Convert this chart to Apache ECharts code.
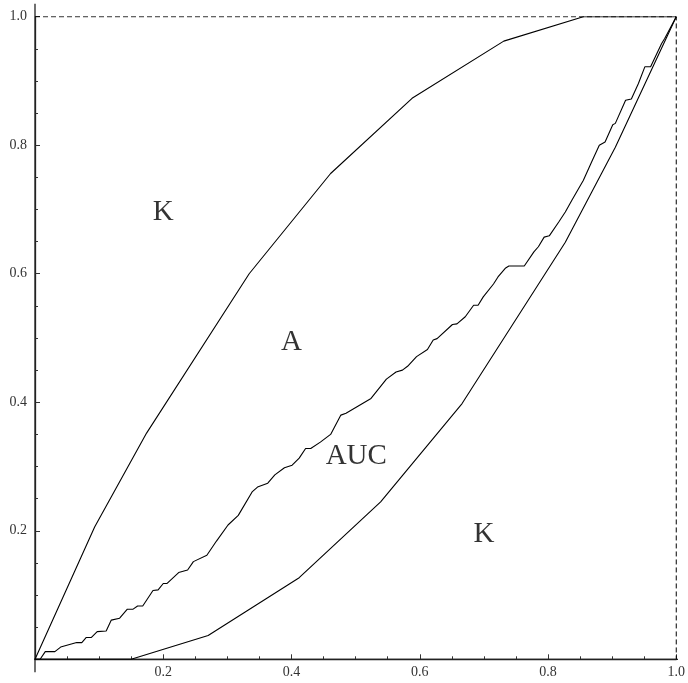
<!DOCTYPE html>
<html>
<head>
<meta charset="utf-8">
<script src="https://cdn.jsdelivr.net/npm/echarts@6/dist/echarts.min.js"></script>
<style>
html, body { margin: 0; padding: 0; background: #fff; }
#chart { width: 688px; height: 683px; }
</style>
</head>
<body>
<div id="chart"></div>
<script>
// upper bound curve (concave)
var upperCurve = [
  [0, 0], [0.093, 0.206], [0.174, 0.352], [0.334, 0.600], [0.461, 0.756],
  [0.588, 0.873], [0.731, 0.962], [0.855, 1.0], [1, 1]
];
// lower bound curve (convex)
var lowerCurve = [
  [0, 0], [0.150, 0], [0.270, 0.037], [0.412, 0.127], [0.539, 0.245],
  [0.666, 0.398], [0.827, 0.649], [0.905, 0.797], [1, 1]
];
// empirical ROC curve (steps)
var rocCurve = [
  [0, 0], [0.008, 0], [0.016, 0.012], [0.031, 0.012], [0.040, 0.019],
  [0.065, 0.026], [0.073, 0.026], [0.080, 0.034], [0.088, 0.034], [0.097, 0.043],
  [0.111, 0.044], [0.119, 0.061], [0.132, 0.064], [0.144, 0.078], [0.153, 0.078],
  [0.160, 0.083], [0.168, 0.083], [0.184, 0.107], [0.192, 0.108], [0.200, 0.118],
  [0.206, 0.118], [0.224, 0.135], [0.238, 0.139], [0.247, 0.152], [0.268, 0.162],
  [0.283, 0.184], [0.301, 0.209], [0.317, 0.224], [0.339, 0.261], [0.347, 0.268],
  [0.363, 0.274], [0.374, 0.287], [0.389, 0.298], [0.401, 0.302], [0.412, 0.313],
  [0.422, 0.328], [0.430, 0.328], [0.445, 0.338], [0.461, 0.350], [0.477, 0.380],
  [0.485, 0.383], [0.524, 0.406], [0.548, 0.436], [0.563, 0.447], [0.573, 0.450],
  [0.581, 0.456], [0.595, 0.471], [0.612, 0.482], [0.621, 0.497], [0.627, 0.499],
  [0.651, 0.521], [0.658, 0.522], [0.671, 0.533], [0.684, 0.551], [0.691, 0.551],
  [0.699, 0.564], [0.715, 0.584], [0.722, 0.595], [0.734, 0.609], [0.739, 0.612],
  [0.763, 0.612], [0.778, 0.634], [0.785, 0.642], [0.794, 0.657], [0.802, 0.659],
  [0.817, 0.681], [0.827, 0.696], [0.837, 0.714], [0.848, 0.733], [0.855, 0.745],
  [0.868, 0.774], [0.880, 0.800], [0.889, 0.805], [0.901, 0.832], [0.905, 0.834],
  [0.921, 0.870], [0.930, 0.872], [0.941, 0.896], [0.951, 0.922], [0.960, 0.922],
  [0.977, 0.958], [0.982, 0.966], [1, 1]
];
// dashed frame at y=1 and x=1
var frame = [[0, 1], [1, 1], [1, 0]];
// region labels
var regionNames = ['K', 'A', 'AUC', 'K'];
var regionPos = [[0.2, 0.695], [0.4, 0.493], [0.501, 0.315], [0.700, 0.194]];

var labelFont = 'Liberation Serif';
var myChart = echarts.init(document.getElementById('chart'));

function axisCommon() {
  return {
    type: 'value',
    min: 0,
    max: 1,
    interval: 0.2,
    splitLine: {show: false},
    axisLine: {show: true, lineStyle: {color: '#222', width: 1.3}},
    axisTick: {show: true, inside: true, length: 5, lineStyle: {color: '#333', width: 1}},
    minorTick: {show: true, splitNumber: 4, length: 3, lineStyle: {color: '#333', width: 1}},
    minorSplitLine: {show: false},
    axisLabel: {
      color: '#333',
      fontFamily: labelFont,
      fontSize: 14,
      formatter: function (v) { return v === 0 ? '' : v.toFixed(1); }
    }
  };
}

var xAxis = axisCommon();
xAxis.axisLabel.margin = 6;
var yAxis = axisCommon();
yAxis.axisLabel.margin = 8;

function plainLine(data, extra) {
  var s = {
    type: 'line',
    data: data,
    showSymbol: false,
    symbol: 'none',
    silent: true,
    lineStyle: {color: '#000', width: 1.1}
  };
  for (var k in extra) s[k] = extra[k];
  return s;
}

option = {
  animation: false,
  backgroundColor: '#fff',
  grid: {left: 35, right: 10, top: 16.7, bottom: 23.7},
  xAxis: xAxis,
  yAxis: yAxis,
  series: [
    plainLine([[-0.02, 0], [1.02, 0]], {clip: false, lineStyle: {color: '#222', width: 1.3}}),
    plainLine([[0, -0.02], [0, 1.02]], {clip: false, lineStyle: {color: '#222', width: 1.3}}),
    plainLine(frame, {lineStyle: {color: '#000', width: 1, type: [5, 3]}}),
    plainLine(upperCurve),
    plainLine(lowerCurve),
    plainLine(rocCurve),
    {
      type: 'scatter',
      symbolSize: 0,
      silent: true,
      data: regionNames.map(function (n, i) {
        return {name: n, value: regionPos[i]};
      }),
      label: {
        show: true,
        position: 'inside',
        formatter: '{b}',
        color: '#000',
        fontFamily: labelFont,
        fontSize: 29
      }
    }
  ]
};
myChart.setOption(option);

window.addEventListener('resize', function () {
  myChart.resize();
});
</script>
</body>
</html>
